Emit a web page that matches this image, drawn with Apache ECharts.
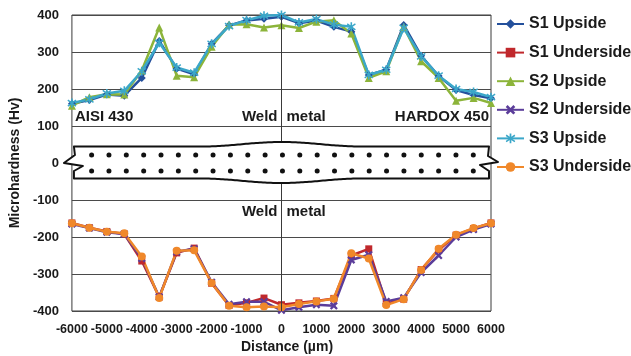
<!DOCTYPE html>
<html>
<head>
<meta charset="utf-8">
<script src="https://cdn.jsdelivr.net/npm/echarts@6/dist/echarts.min.js"></script>
<style>
html,body{margin:0;padding:0;background:#fff;}
#c{width:631px;height:356px;}
</style>
</head>
<body>
<div id="c"></div>
<script>
// ---- data ----
const distances = [-6000,-5500,-5000,-4500,-4000,-3500,-3000,-2500,-2000,-1500,-1000,-500,0,500,1000,1500,2000,2500,3000,3500,4000,4500,5000,5500,6000];
const s1Upside    = [160,170,185,182,230,330,255,240,322,372,385,390,395,378,385,368,355,238,252,373,290,235,197,184,175];
const s2Upside    = [155,178,186,185,250,366,236,232,314,374,375,366,372,365,382,386,350,230,248,368,275,230,168,176,162];
const s3Upside    = [162,172,188,195,248,325,258,244,322,370,386,398,400,380,389,374,368,238,252,365,288,236,200,192,178];
const s1Underside = [-162,-175,-185,-192,-265,-362,-243,-230,-325,-385,-378,-365,-383,-378,-373,-366,-250,-232,-380,-368,-288,-235,-195,-177,-162];
const s2Underside = [-165,-176,-187,-192,-258,-362,-240,-232,-322,-382,-375,-375,-398,-390,-383,-386,-262,-248,-374,-364,-296,-250,-200,-180,-165];
const s3Underside = [-163,-175,-186,-190,-253,-365,-237,-236,-324,-386,-390,-388,-390,-381,-374,-367,-244,-258,-384,-368,-289,-232,-194,-176,-163];
const seriesNames = ['S1 Upside','S1 Underside','S2 Upside','S2 Underside','S3 Upside','S3 Underside'];
const yTicks = [-400,-300,-200,-100,0,100,200,300,400];
const xTicks = [-6000,-5000,-4000,-3000,-2000,-1000,0,1000,2000,3000,4000,5000,6000];

const FONT = '"Liberation Sans", Arial, sans-serif';
const TXT = '#1a1a1a';

const xMarker = 'path://M2,0 L5,3 L8,0 L10,2 L7,5 L10,8 L8,10 L5,7 L2,10 L0,8 L3,5 L0,2 Z';
const starMarker = 'path://M4.2,0 L5.8,0 L5.8,10 L4.2,10 Z M0.5,2.4 L1.3,1 L9.5,7.6 L8.7,9 Z M8.7,1 L9.5,2.4 L1.3,9 L0.5,7.6 Z';

function mk(name, vals, color, symbol, size, extra) {
  const s = {
    name: name, type: 'line',
    data: distances.map((d, i) => [d, vals[i]]),
    symbol: symbol, symbolSize: size, showSymbol: true,
    lineStyle: { color: color, width: 2.5 },
    itemStyle: { color: color },
    emphasis: { disabled: true }
  };
  return Object.assign(s, extra || {});
}

const chart = echarts.init(document.getElementById('c'), null, { renderer: 'canvas' });

const option = {
  animation: false,
  backgroundColor: '#fff',
  textStyle: { fontFamily: FONT },
  grid: { left: 63, right: 140, top: 15, bottom: 45, show: true, borderColor: '#3a3a3a', borderWidth: 1, backgroundColor: 'transparent' },
  legend: {
    orient: 'vertical', left: 496, top: 16, padding: 0,
    itemWidth: 27, itemHeight: 12, itemGap: 12.6,
    textStyle: { fontFamily: FONT, fontSize: 16, fontWeight: 'bold', color: TXT, lineHeight: 16 },
    data: seriesNames
  },
  xAxis: {
    type: 'value', min: -6000, max: 6000, interval: 1000,
    axisLine: { show: false, onZero: false },
    axisTick: { show: false },
    splitLine: { show: false },
    axisLabel: { margin: 12, fontFamily: FONT, fontSize: 12.5, fontWeight: 'bold', color: TXT, hideOverlap: false, showMinLabel: true, showMaxLabel: true,
      formatter: v => xTicks.includes(v) ? String(v) : '' }
  },
  yAxis: {
    type: 'value', min: -400, max: 400, interval: 100,
    name: 'Microhardness (Hv)', nameLocation: 'middle', nameGap: 44, nameRotate: 90,
    nameTextStyle: { fontFamily: FONT, fontSize: 14, fontWeight: 'bold', color: TXT },
    axisLine: { show: false, onZero: false },
    axisTick: { show: false },
    splitLine: { show: true, lineStyle: { color: '#4a4a4a', width: 1 } },
    axisLabel: { margin: 13, fontFamily: FONT, fontSize: 13, fontWeight: 'bold', color: TXT,
      formatter: v => yTicks.includes(v) ? String(v) : '' }
  },
  series: [
    mk('S1 Upside', s1Upside, '#24509c', 'diamond', 8, {
      markLine: { silent: true, symbol: 'none', label: { show: false }, lineStyle: { color: '#3a3a3a', width: 1, type: 'solid' }, data: [{ xAxis: 0 }] }
    }),
    mk('S1 Underside', s1Underside, '#c0282c', 'rect', 7),
    mk('S2 Upside', s2Upside, '#8cb43a', 'triangle', 8),
    mk('S2 Underside', s2Underside, '#5b3d9a', xMarker, 8),
    mk('S3 Upside', s3Upside, '#3ba7c9', starMarker, 9),
    mk('S3 Underside', s3Underside, '#f0882a', 'circle', 8)
  ]
};
chart.setOption(option);

// ---- decorations: plate schematic & region labels ----
function px(x, y) { return chart.convertToPixel({ gridIndex: 0 }, [x, y]); }
const pL = px(-6000, 0), pR = px(6000, 0), pC = px(0, 0);
const L = pL[0], R = pR[0], yc = pC[1], cx = pC[0];
const plateTop = yc - 16.5, plateBot = yc + 15.5;
const pts = [];
// top edge left -> right with bulge
for (let x = L + 2; x <= R - 2; x += 2) {
  const d = Math.abs(x - cx) < 80 ? 4.5 * (1 + Math.cos(Math.PI * (x - cx) / 80)) / 2 : 0;
  pts.push([x, plateTop - d]);
}
// right break
pts.push([R - 2, plateTop], [R - 3, yc - 7], [R + 7, yc - 1], [R - 11, yc + 2], [R - 2, yc + 8], [R - 2, plateBot]);
// bottom edge right -> left
for (let x = R - 2; x >= L + 2; x -= 2) {
  const d = Math.abs(x - cx) < 80 ? 4.5 * (1 + Math.cos(Math.PI * (x - cx) / 80)) / 2 : 0;
  pts.push([x, plateBot + d]);
}
// left break
pts.push([L + 2, plateBot], [L + 2, yc + 8], [L + 11, yc + 3], [L - 8, yc], [L + 3, yc - 8], [L + 2, plateTop]);

const graphics = [{
  type: 'polygon', z: 100, silent: true,
  shape: { points: pts },
  style: { fill: '#fff', stroke: '#111', lineWidth: 2, lineJoin: 'round' }
}];
const step = 17.35;
for (let i = -11; i <= 11; i++) {
  [yc - 8, yc + 8].forEach(yy => {
    graphics.push({ type: 'circle', z: 101, silent: true, shape: { cx: cx + 1 + i * step, cy: yy, r: 2.5 }, style: { fill: '#111' } });
  });
}
const p100 = px(0, 100), pm100 = px(0, -100);
const tStyle = { fontFamily: FONT, fontSize: 15, fontWeight: 'bold', fill: TXT };
function txt(text, x, y, align) {
  graphics.push({ type: 'text', z: 102, silent: true, x: x, y: y,
    style: Object.assign({ text: text, textAlign: align, textVerticalAlign: 'middle' }, tStyle) });
}
txt('AISI 430', L + 3, p100[1] - 9, 'left');
txt('Weld', cx - 4, p100[1] - 9, 'right');
txt('metal', cx + 5, p100[1] - 9, 'left');
txt('HARDOX 450', R - 2, p100[1] - 9, 'right');
txt('Weld', cx - 4, pm100[1] + 12, 'right');
txt('metal', cx + 5, pm100[1] + 12, 'left');
graphics.push({ type: 'text', z: 102, silent: true, x: 287, y: 347,
  style: { text: 'Distance (µm)', textAlign: 'center', textVerticalAlign: 'middle', fontFamily: FONT, fontSize: 14, fontWeight: 'bold', fill: TXT } });

chart.setOption({ graphic: graphics });
</script>
</body>
</html>
